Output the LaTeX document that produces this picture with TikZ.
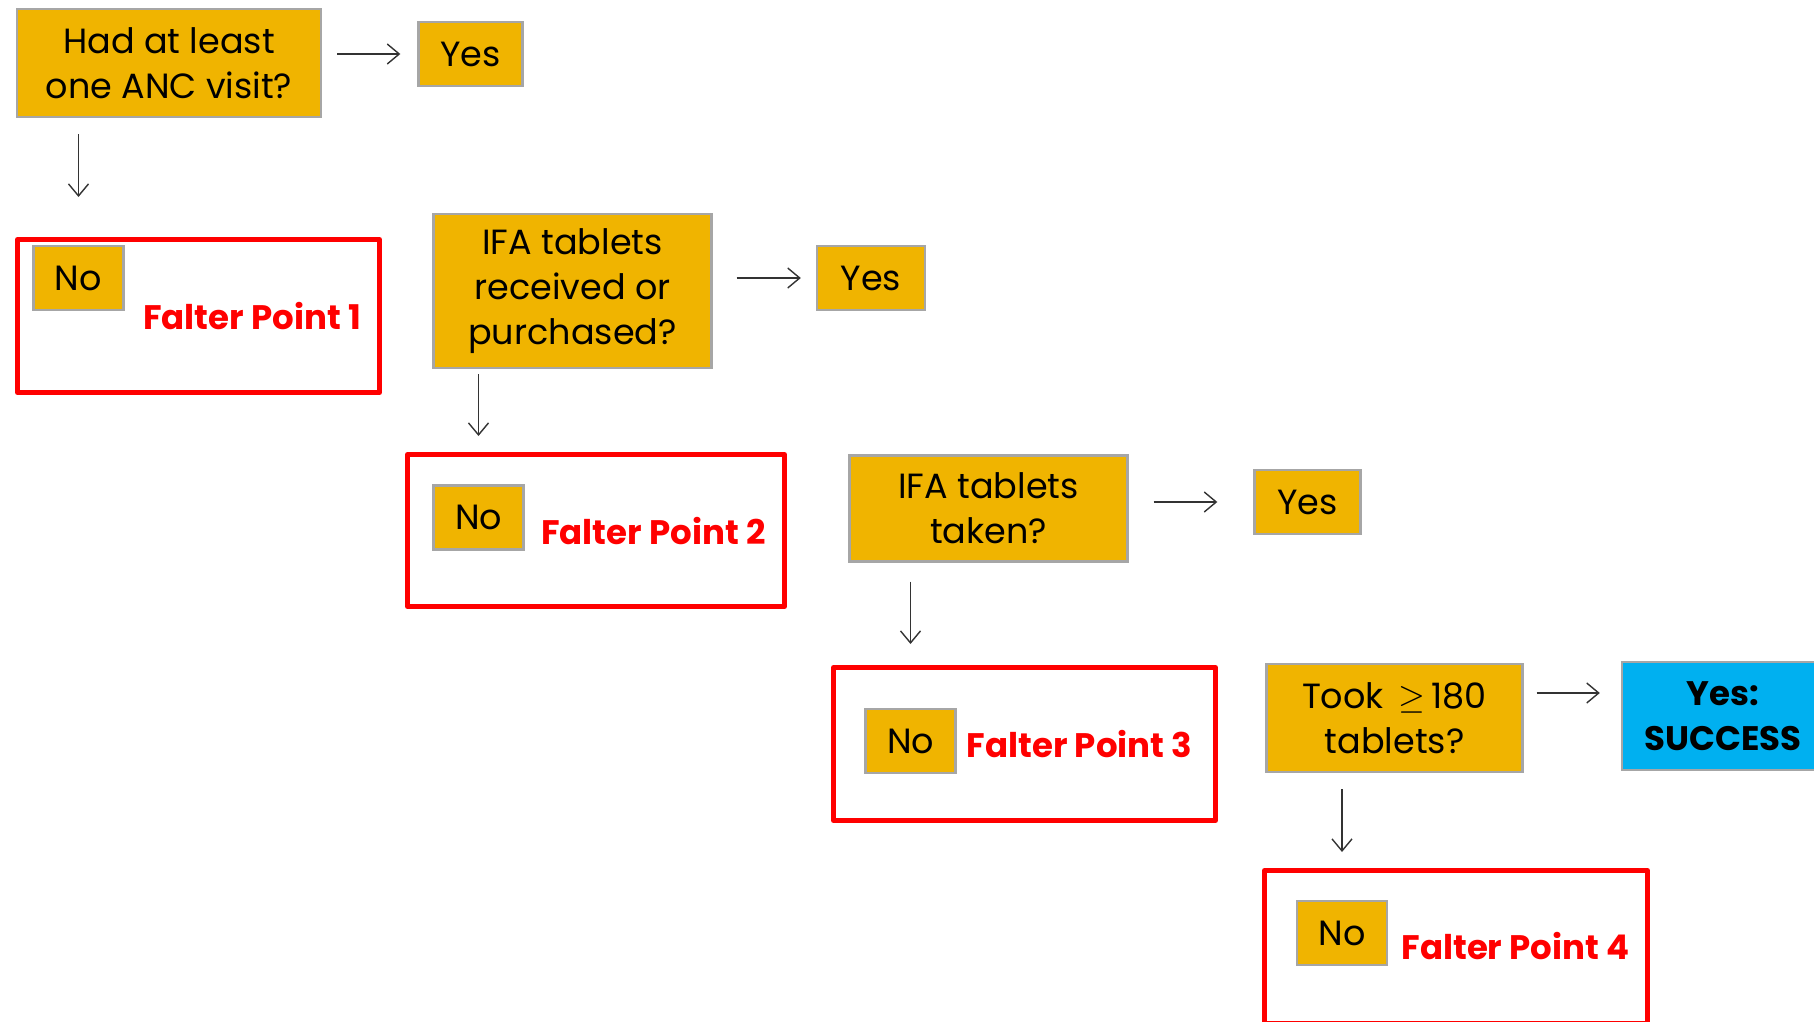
\documentclass[tikz,border=0pt]{standalone}
\usepackage{fontspec}
\setmainfont{Poppins}
\usepackage{tikz}
\usetikzlibrary{arrows.meta}
\definecolor{gold}{RGB}{240,180,0}
\definecolor{boxgray}{RGB}{166,166,166}
\definecolor{skyblue}{RGB}{0,176,240}

\begin{document}
\begin{tikzpicture}[x=0.5pt,y=-0.5pt,
  qbox/.style={fill=gold,draw=boxgray,line width=1.2pt,align=center,inner sep=0pt,
    font=\fontsize{17.5}{22.5}\selectfont},
  redbox/.style={draw=red,line width=2.5pt,line join=round},
  falter/.style={text=red,inner sep=0pt,font=\bfseries\fontsize{17}{20}\selectfont},
  arr/.style={-{Straight Barb[length=6pt,width=10pt]},line width=0.7pt,black!80}]
\useasboundingbox (0,0) rectangle (1814,1022);
\clip (0,0) rectangle (1814,1022);

% step 1
\node [qbox,minimum width=152pt,minimum height=54pt] (anc) at (169,63) {Had at least\\one ANC visit?};
\node [qbox,minimum width=52pt,minimum height=32pt] (yes1) at (470.5,54) {Yes};
\node [redbox,minimum width=181pt,minimum height=76.5pt] (red1) at (198.5,316) {};
\node [qbox,minimum width=45pt,minimum height=32pt] (no1) at (78.5,278) {No};
\node [falter] (fp1) at (252,316) {Falter Point 1};
\draw [arr,shorten <=7.5pt,shorten >=8.5pt] (anc.east |- yes1) -- (yes1.west);
\draw [arr,shorten <=8pt,shorten >=20pt] (anc.south -| no1) -- (red1.north -| no1);

% step 2
\node [qbox,minimum width=139pt,minimum height=77pt] (ifarec) at (572.5,291) {IFA tablets\\received or\\purchased?};
\node [qbox,minimum width=54pt,minimum height=32pt] (yes2) at (871,278) {Yes};
\node [redbox,minimum width=188.5pt,minimum height=76pt] (red2) at (596,530.5) {};
\node [qbox,minimum width=45pt,minimum height=32pt] (no2) at (478.5,517.5) {No};
\node [falter] (fp2) at (653.5,531) {Falter Point 2};
\draw [arr,shorten <=12pt,shorten >=7.5pt] (ifarec.east |- yes2) -- (yes2.west);
\draw [arr,shorten <=2.5pt,shorten >=8pt] (ifarec.south -| no2) -- (red2.north -| no2);

% step 3
\node [qbox,minimum width=139pt,minimum height=53pt] (ifatake) at (988.5,508.5) {IFA tablets\\taken?};
\node [qbox,minimum width=53pt,minimum height=32pt] (yes3) at (1307.5,502) {Yes};
\node [redbox,minimum width=191pt,minimum height=76.5pt] (red3) at (1024.5,744) {};
\node [qbox,minimum width=45pt,minimum height=32pt] (no3) at (910.5,741) {No};
\node [falter] (fp3) at (1079.5,744) {Falter Point 3};
\draw [arr,shorten <=12.5pt,shorten >=18pt] (ifatake.east |- yes3) -- (yes3.west);
\draw [arr,shorten <=9.5pt,shorten >=10.5pt] (ifatake.south -| no3) -- (red3.north -| no3);

% step 4
\node [qbox,minimum width=128pt,minimum height=54pt] (took) at (1394.5,718) {Took \,$\geq$\,180\\tablets?};
\node [qbox,fill=skyblue,minimum width=101pt,minimum height=54pt,font=\bfseries\fontsize{17}{22.5}\selectfont] (succ) at (1723,716) {Yes:\\SUCCESS};
\node [redbox,minimum width=191.5pt,minimum height=76.5pt] (red4) at (1456,947) {};
\node [qbox,minimum width=45pt,minimum height=32pt] (no4) at (1342,933) {No};
\node [falter] (fp4) at (1515.5,946) {Falter Point 4};
\draw [arr,shorten <=6.5pt,shorten >=10.5pt] ([yshift=12.5pt]took.east) -- ([yshift=12.5pt]took.east -| succ.west);
\draw [arr,shorten <=8pt,shorten >=8pt] (took.south -| no4) -- (red4.north -| no4);
\end{tikzpicture}
\end{document}
